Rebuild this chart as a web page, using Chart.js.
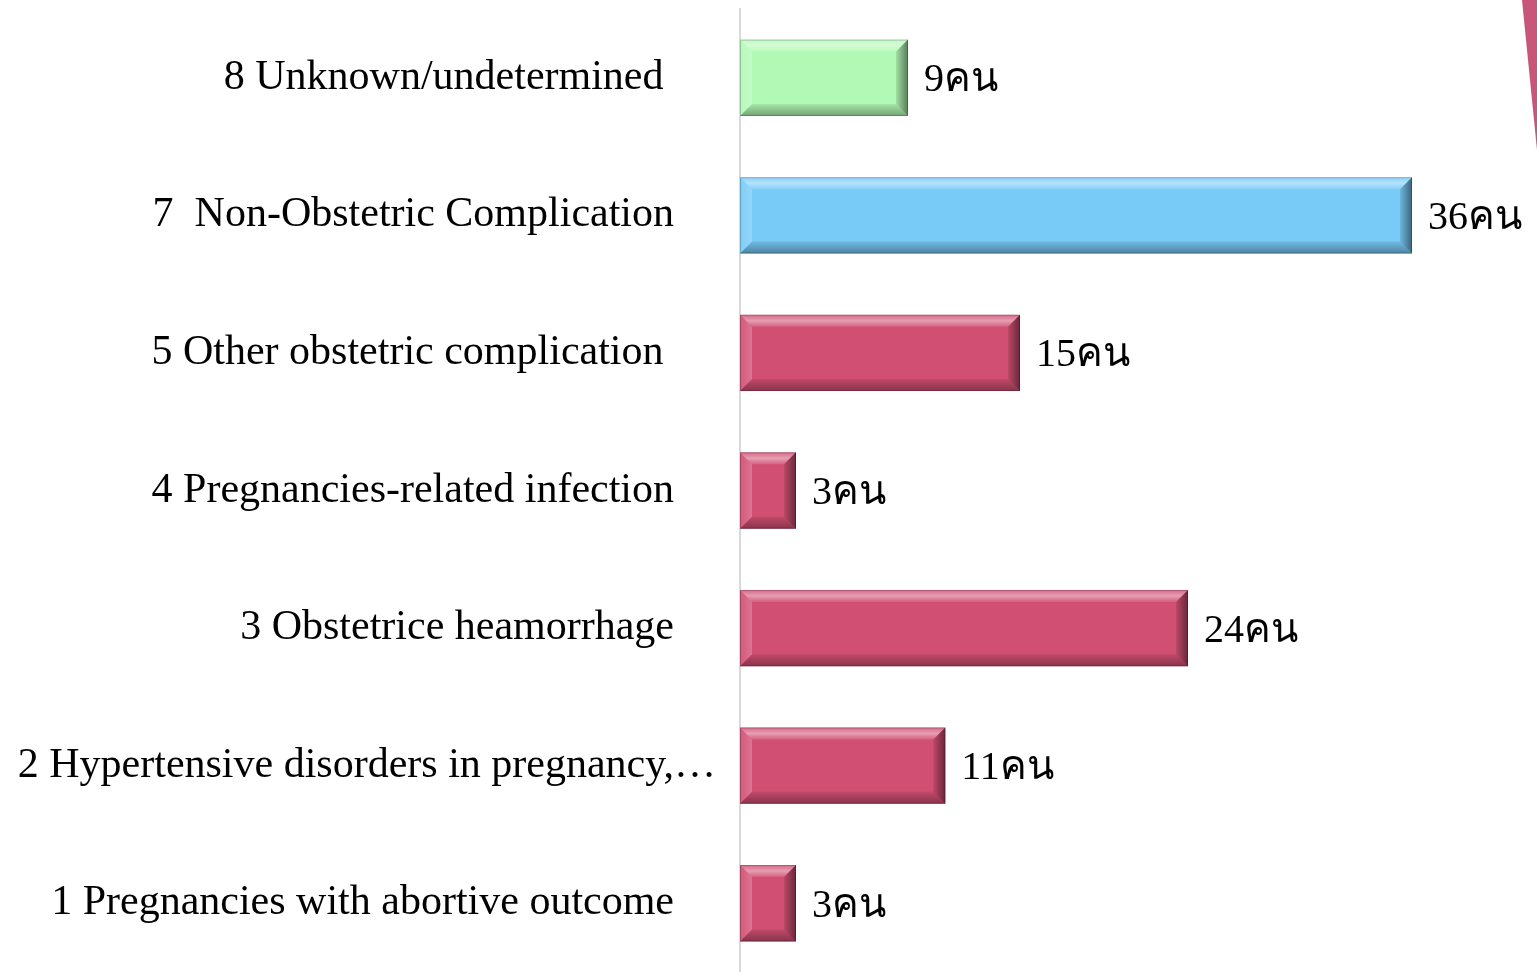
<!DOCTYPE html>
<html>
<head>
<meta charset="utf-8">
<script src="https://cdn.jsdelivr.net/npm/chart.js@4.4.0/dist/chart.umd.min.js"></script>
<style>
  html, body { margin: 0; padding: 0; background: #fff; }
  #wrap { width: 1537px; height: 972px; position: relative; }
</style>
</head>
<body>
<div id="wrap"><canvas id="causeChart"></canvas></div>
<script>
// categories, top to bottom as in the slide (trailing spaces keep the slide's label alignment)
const categories = [
    '8 Unknown/undetermined     ',
    '7  Non-Obstetric Complication    ',
    '5 Other obstetric complication     ',
    '4 Pregnancies-related infection    ',
    '3 Obstetrice heamorrhage    ',
    '2 Hypertensive disorders in pregnancy,\u2026',
    '1 Pregnancies with abortive outcome    '
];
const deaths = [9, 36, 15, 3, 24, 11, 3];
const unitLabel = 'คน';
const barColors = ['#B3F9B6', '#78CAF7', '#D14F73', '#D14F73', '#D14F73', '#D14F73', '#D14F73'];

const serif = '"Liberation Serif", "Times New Roman", "DejaVu Serif", serif';

// bevel look + value labels, drawn on top of the library's bars
const bevelPlugin = {
    id: 'bevel',
    afterDatasetsDraw(chart) {
        const ctx = chart.ctx;
        const meta = chart.getDatasetMeta(0);
        meta.data.forEach((bar, i) => {
            const p = bar.getProps(['x', 'y', 'base', 'height'], true);
            const l = Math.min(p.base, p.x), r = Math.max(p.base, p.x);
            const t = p.y - p.height / 2, b = p.y + p.height / 2;
            const d = Math.min(12, (r - l) / 3);
            const poly = (pts, fill) => {
                ctx.beginPath();
                ctx.moveTo(pts[0][0], pts[0][1]);
                pts.slice(1).forEach(q => ctx.lineTo(q[0], q[1]));
                ctx.closePath();
                ctx.fillStyle = fill;
                ctx.fill();
            };
            ctx.save();
            let g = ctx.createLinearGradient(0, t, 0, t + d);
            g.addColorStop(0, 'rgba(255,255,255,0.15)');
            g.addColorStop(0.5, 'rgba(255,255,255,0.45)');
            g.addColorStop(1, 'rgba(255,255,255,0.1)');
            poly([[l, t], [r, t], [r - d, t + d], [l + d, t + d]], g);
            g = ctx.createLinearGradient(l, 0, l + d, 0);
            g.addColorStop(0, 'rgba(255,255,255,0.05)');
            g.addColorStop(1, 'rgba(255,255,255,0.22)');
            poly([[l, t], [l + d, t + d], [l + d, b - d], [l, b]], g);
            g = ctx.createLinearGradient(0, b - d, 0, b);
            g.addColorStop(0, 'rgba(0,0,0,0.08)');
            g.addColorStop(1, 'rgba(0,0,0,0.35)');
            poly([[l, b], [l + d, b - d], [r - d, b - d], [r, b]], g);
            g = ctx.createLinearGradient(r - d, 0, r, 0);
            g.addColorStop(0, 'rgba(0,0,0,0.1)');
            g.addColorStop(1, 'rgba(0,0,0,0.5)');
            poly([[r, t], [r, b], [r - d, b - d], [r - d, t + d]], g);
            ctx.strokeStyle = 'rgba(0,0,0,0.2)';
            ctx.lineWidth = 1;
            ctx.strokeRect(l + 0.5, t + 0.5, r - l - 1, b - t - 1);

            ctx.fillStyle = '#000';
            ctx.font = '40px ' + serif;
            ctx.textAlign = 'left';
            ctx.textBaseline = 'middle';
            ctx.fillText(deaths[i] + unitLabel, r + 16, p.y + 3);
            ctx.restore();
        });

        // pink decoration sliver at top right of the slide
        ctx.save();
        ctx.beginPath();
        ctx.moveTo(chart.width - 15, 0);
        ctx.lineTo(chart.width, 0);
        ctx.lineTo(chart.width, 150);
        ctx.closePath();
        ctx.fillStyle = '#C8557A';
        ctx.fill();
        ctx.restore();
    }
};

new Chart(document.getElementById('causeChart'), {
    type: 'bar',
    data: {
        labels: categories,
        datasets: [{
            data: deaths,
            backgroundColor: barColors,
            borderWidth: 0,
            categoryPercentage: 1,
            barPercentage: 0.555
        }]
    },
    options: {
        indexAxis: 'y',
        responsive: true,
        maintainAspectRatio: false,
        animation: false,
        layout: { padding: { top: 9, right: 13, bottom: 0, left: 0 } },
        plugins: { legend: { display: false }, tooltip: { enabled: false } },
        scales: {
            x: { display: false, min: 0, max: 42 },
            y: {
                border: { display: true, color: '#D9D9D9', width: 2 },
                grid: { display: false, drawTicks: false },
                ticks: {
                    color: '#000',
                    padding: 24,
                    font: { family: serif, size: 42 }
                },
                afterFit(scale) {
                    scale.width = 740;
                    scale.paddingTop = 0;
                    scale.paddingBottom = 0;
                }
            }
        }
    },
    plugins: [bevelPlugin]
});
</script>
</body>
</html>
